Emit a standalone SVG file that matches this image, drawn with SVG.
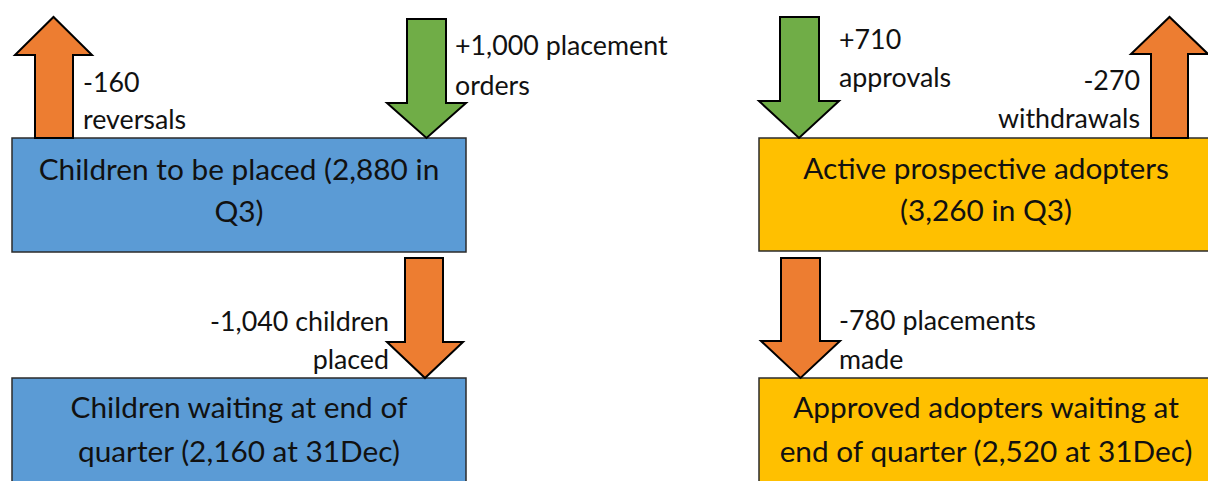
<svg xmlns="http://www.w3.org/2000/svg" width="1208" height="481" viewBox="0 0 1208 481">
  <style>
    .box { stroke: #2b2b2b; stroke-width: 1.5; }
    .children { fill: #5B9BD5; }
    .adopters { fill: #FFC000; }
    .arrow { stroke: #000; stroke-width: 2; stroke-linejoin: miter; }
    .out { fill: #ED7D31; }
    .in { fill: #70AD47; }
    text { font-family: Lato, "Open Sans", "Liberation Sans", sans-serif; fill: #111; }
    .label { font-size: 26.8px; }
    .title { font-size: 29.8px; text-anchor: middle; }
    .end { text-anchor: end; }
  </style>
  <rect width="1208" height="481" fill="#fff"/>

  <!-- stock boxes -->
  <g id="children-to-place">
    <rect class="box children" x="12" y="138" width="454" height="114"/>
    <text class="title" x="239" y="180">Children to be placed (2,880 in</text>
    <text class="title" x="239" y="222">Q3)</text>
  </g>
  <g id="children-waiting">
    <rect class="box children" x="12" y="378" width="454" height="112"/>
    <text class="title" x="239" y="418">Children waiting at end of</text>
    <text class="title" x="239" y="462">quarter (2,160 at 31Dec)</text>
  </g>
  <g id="active-adopters">
    <rect class="box adopters" x="759" y="138" width="456" height="113"/>
    <text class="title" x="986" y="179">Active prospective adopters</text>
    <text class="title" x="986" y="221">(3,260 in Q3)</text>
  </g>
  <g id="approved-adopters">
    <rect class="box adopters" x="759" y="378" width="456" height="112"/>
    <text class="title" x="986" y="418">Approved adopters waiting at</text>
    <text class="title" x="986" y="462">end of quarter (2,520 at 31Dec)</text>
  </g>

  <!-- flow arrows -->
  <g id="connectors">
    <polygon class="arrow out" points="35,138 35,55 15,55 53.5,17 92,55 73,55 73,138"/>
    <polygon class="arrow in" points="407,19 446,19 446,103 466,103 426.5,138 387,103 407,103"/>
    <polygon class="arrow out" points="405,258 443,258 443,342 463,342 425,378 387,342 405,342"/>
    <polygon class="arrow in" points="780,17 819,17 819,101 839,101 799,138 759,101 780,101"/>
    <polygon class="arrow out" points="1151,138 1151,54 1131,54 1169.5,17 1208,54 1188,54 1188,138"/>
    <polygon class="arrow out" points="781,258 820,258 820,341 840,341 800.5,378 761,341 781,341"/>

    <text class="label" x="83" y="92">-160</text>
    <text class="label" x="83" y="129">reversals</text>
    <text class="label" x="455" y="55">+1,000 placement</text>
    <text class="label" x="455" y="95">orders</text>
    <text class="label end" x="389" y="331">-1,040 children</text>
    <text class="label end" x="389" y="369">placed</text>
    <text class="label" x="839" y="49">+710</text>
    <text class="label" x="839" y="87">approvals</text>
    <text class="label end" x="1140" y="90">-270</text>
    <text class="label end" x="1140" y="128">withdrawals</text>
    <text class="label" x="839" y="330">-780 placements</text>
    <text class="label" x="839" y="369">made</text>
  </g>
</svg>
